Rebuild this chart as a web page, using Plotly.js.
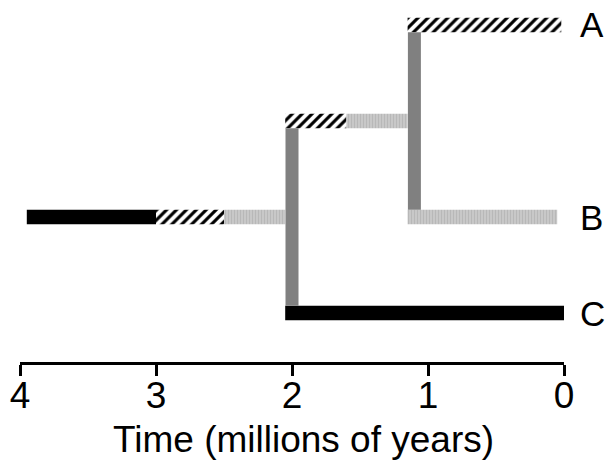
<!DOCTYPE html>
<html>
<head>
<meta charset="utf-8">
<script src="https://cdn.plot.ly/plotly-3.0.1.min.js"></script>
<style>html,body{margin:0;padding:0;background:#fff;}#chart{width:613px;height:470px;}</style>
</head>
<body>
<div id="chart"></div>
<script>
// Branch segments: times in millions of years before present, y = lineage level
const blackStart = [3.95, 2.05];
const blackEnd   = [3.0, 0.0];
const blackY     = [2, 1];

const hatchStart = [3.0, 2.05, 1.15];
const hatchEnd   = [2.5, 1.6, 0.02];
const hatchY     = [2, 3, 4];

const grayStart  = [2.5, 1.6, 1.15];
const grayEnd    = [2.05, 1.15, 0.05];
const grayY      = [2, 3, 2];

// Splitting nodes (vertical connectors)
const nodeTime = [2.0, 1.1];
const nodeLow  = [1, 2];
const nodeHigh = [3, 4];

const tipLabels = ["A", "B", "C"];
const tipY      = [4, 2, 1];

const tickVals = [4, 3, 2, 1, 0];
const tickText = ["4", "3", "2", "1", "0"];
const xTitle = "Time (millions of years)";

const BAR_W = 0.15;
const FONT = "Liberation Sans, Arial, Helvetica, sans-serif";

function barTrace(starts, ends, ys, marker) {
  return {
    type: "bar", orientation: "h",
    y: ys,
    base: ends,
    x: starts.map((s, i) => s - ends[i]),
    width: BAR_W,
    marker: marker,
    hoverinfo: "skip",
    showlegend: false
  };
}

const vx = [], vy = [];
nodeTime.forEach((t, i) => {
  vx.push(t, t, null);
  vy.push(nodeLow[i] + BAR_W / 2, nodeHigh[i] - BAR_W / 2, null);
});

const data = [
  barTrace(blackStart, blackEnd, blackY, {color: "#000000", line: {width: 0}}),
  barTrace(hatchStart, hatchEnd, hatchY, {
    color: "#ffffff", line: {width: 0},
    pattern: {shape: "/", fgcolor: "#000000", bgcolor: "#ffffff", size: 7, solidity: 0.45}
  }),
  barTrace(grayStart, grayEnd, grayY, {
    color: "#c8c8c8", line: {width: 0},
    pattern: {shape: "|", fgcolor: "#b8b8b8", bgcolor: "#cecece", size: 3, solidity: 0.5}
  }),
  {
    type: "scatter", mode: "lines", x: vx, y: vy,
    line: {color: "#808080", width: 13},
    hoverinfo: "skip", showlegend: false
  }
];

const layout = {
  width: 613, height: 470,
  margin: {l: 20, r: 49, t: 0, b: 108},
  paper_bgcolor: "#ffffff", plot_bgcolor: "#ffffff",
  barmode: "overlay",
  font: {family: FONT, color: "#000000"},
  xaxis: {
    range: [4, 0],
    tickvals: tickVals, ticktext: tickText,
    showline: true, linecolor: "#000000", linewidth: 3,
    ticks: "outside", ticklen: 11, tickwidth: 3, tickcolor: "#000000",
    ticklabelstandoff: -12,
    showgrid: false, zeroline: false,
    tickfont: {size: 37, family: FONT, color: "#000000"},
    fixedrange: true
  },
  yaxis: {
    range: [0.49, 4.26], visible: false, fixedrange: true
  },
  annotations: tipLabels.map((t, i) => ({
    text: t, xref: "paper", x: 1, yref: "y", y: tipY[i],
    xanchor: "left", yanchor: "middle", xshift: 14, showarrow: false,
    font: {size: 35, family: FONT, color: "#000000"}
  })).concat([{
    text: xTitle, xref: "paper", yref: "paper", x: 0.522, y: -0.215,
    xanchor: "center", yanchor: "middle", showarrow: false,
    font: {size: 37, family: FONT, color: "#000000"}
  }])
};

Plotly.newPlot("chart", data, layout, {displayModeBar: false, staticPlot: true});
</script>
</body>
</html>
